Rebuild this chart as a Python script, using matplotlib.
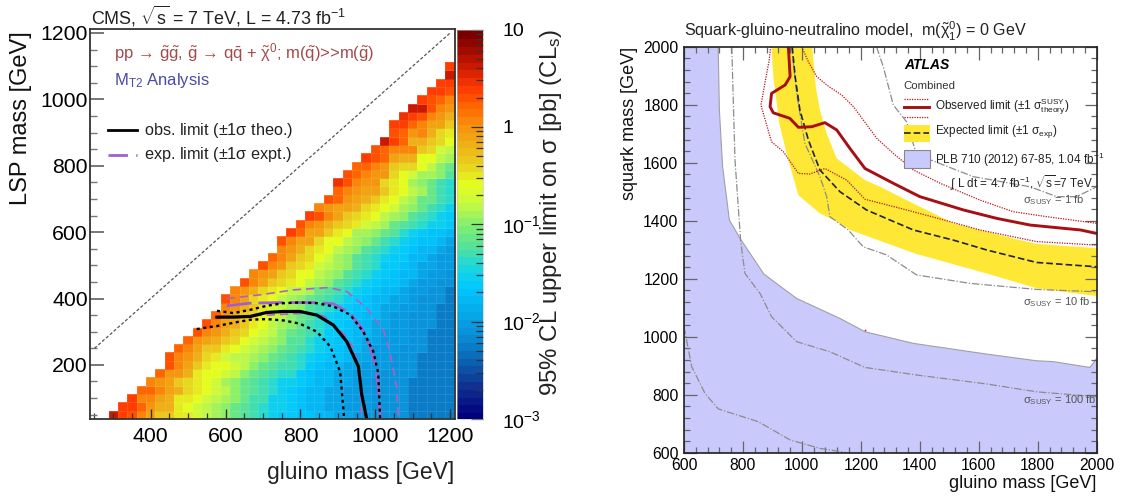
import numpy as np
import matplotlib
matplotlib.use("Agg")
import matplotlib.pyplot as plt
from matplotlib.colors import LinearSegmentedColormap, LogNorm
from matplotlib.patches import Rectangle
from matplotlib.ticker import MultipleLocator, FixedLocator, NullFormatter

plt.rcParams['font.family'] = ['Liberation Sans', 'DejaVu Sans']
plt.rcParams['mathtext.fontset'] = 'custom'
plt.rcParams['mathtext.rm'] = 'Liberation Sans'
plt.rcParams['mathtext.it'] = 'Liberation Sans:italic'
plt.rcParams['mathtext.bf'] = 'Liberation Sans:bold'

# ---------- left panel data: log10(sigma)*10, bottom row first, diagonal-side cell first ----------
gluino_first_bin = 300
lsp_first_bin = 50
bin_step = 25
log_limit_rows = [
 [6,4,3,1,-1,-3,-3,-5,-5,-7,-8,-9,-10,-11,-12,-13,-14,-15,-16,-16,-17,-17,-18,-18,-19,-19,-20,-20,-20,-21,-21,-21,-22,-22,-22,-22,-22],
 [4,4,2,0,-2,-2,-5,-6,-7,-8,-9,-10,-11,-12,-13,-14,-15,-15,-16,-17,-18,-18,-19,-19,-20,-20,-20,-21,-21,-21,-21,-22,-22,-22,-22,-22],
 [4,1,1,-1,-2,-5,-5,-6,-7,-8,-9,-10,-11,-13,-13,-15,-15,-16,-17,-18,-18,-19,-19,-20,-20,-20,-21,-21,-21,-21,-22,-22,-22,-22,-22],
 [2,2,1,-1,-2,-4,-5,-6,-7,-8,-10,-11,-12,-13,-14,-15,-16,-17,-18,-18,-19,-19,-20,-20,-20,-21,-21,-21,-21,-22,-22,-22,-22,-22],
 [1,0,-1,-3,-4,-5,-6,-7,-9,-10,-11,-12,-13,-14,-15,-15,-16,-17,-18,-18,-19,-19,-20,-20,-21,-21,-21,-21,-22,-22,-22,-22,-22],
 [2,0,0,-2,-5,-6,-6,-7,-8,-10,-11,-12,-13,-14,-14,-16,-17,-18,-18,-19,-19,-20,-20,-20,-21,-21,-21,-21,-22,-22,-22,-22],
 [3,1,-1,-3,-5,-6,-6,-7,-8,-10,-11,-12,-13,-13,-14,-16,-17,-18,-18,-19,-19,-20,-20,-20,-21,-21,-21,-22,-22,-22,-22],
 [3,1,0,-2,-4,-5,-7,-8,-8,-9,-10,-11,-12,-13,-14,-15,-16,-17,-17,-18,-19,-19,-20,-20,-21,-21,-21,-22,-22,-22,-22],
 [2,1,-1,-3,-3,-5,-6,-7,-8,-9,-10,-11,-12,-13,-14,-15,-16,-17,-18,-18,-19,-20,-20,-20,-21,-21,-21,-22,-22,-22],
 [2,0,-1,-2,-3,-4,-6,-7,-8,-9,-10,-12,-12,-14,-15,-16,-17,-17,-18,-19,-19,-20,-20,-20,-21,-21,-22,-22,-22],
 [3,1,0,-2,-3,-4,-6,-7,-8,-10,-11,-12,-13,-14,-16,-16,-17,-18,-18,-19,-20,-20,-20,-21,-21,-22,-22,-22],
 [3,1,-1,-2,-3,-5,-6,-8,-9,-10,-11,-13,-14,-15,-16,-17,-18,-18,-19,-19,-20,-20,-21,-21,-21,-22,-22],
 [2,0,-2,-3,-4,-6,-7,-8,-10,-11,-12,-14,-15,-16,-16,-17,-18,-18,-19,-20,-20,-21,-21,-21,-22,-22],
 [1,0,-2,-3,-5,-7,-8,-9,-10,-12,-13,-14,-15,-16,-17,-17,-18,-19,-19,-20,-20,-21,-21,-22,-22],
 [3,1,-1,-4,-5,-6,-8,-9,-10,-11,-12,-13,-14,-15,-16,-17,-18,-18,-19,-19,-20,-21,-21,-21,-22],
 [1,0,-2,-4,-5,-6,-8,-8,-9,-11,-12,-13,-14,-15,-16,-17,-18,-18,-19,-20,-20,-21,-21,-22],
 [3,1,-1,-3,-4,-5,-6,-8,-9,-10,-12,-13,-14,-15,-16,-17,-17,-18,-19,-20,-20,-21,-21],
 [1,0,-1,-3,-4,-6,-6,-8,-9,-10,-12,-13,-14,-15,-16,-17,-18,-18,-19,-20,-20,-21],
 [3,1,0,-3,-4,-5,-7,-8,-9,-10,-12,-13,-14,-16,-16,-17,-18,-19,-19,-20,-20],
 [2,1,-1,-3,-4,-6,-7,-9,-10,-12,-13,-14,-15,-16,-16,-18,-18,-19,-20,-20],
 [1,0,-2,-4,-5,-6,-8,-9,-10,-12,-13,-14,-15,-16,-17,-18,-18,-19,-20],
 [3,1,-1,-1,-4,-6,-6,-8,-9,-10,-11,-13,-14,-15,-16,-17,-17,-18,-19],
 [4,2,-1,-1,-3,-5,-6,-9,-9,-10,-11,-12,-14,-15,-16,-17,-17,-18],
 [3,1,0,-2,-3,-4,-5,-7,-8,-9,-11,-12,-13,-14,-15,-15,-16],
 [4,3,1,-1,-3,-4,-5,-6,-8,-9,-10,-12,-13,-14,-15,-16],
 [1,0,-1,-1,-2,-4,-5,-6,-7,-9,-10,-11,-13,-14,-15],
 [3,2,0,-1,-2,-3,-5,-6,-8,-9,-11,-11,-13,-14],
 [2,1,0,-1,-1,-3,-5,-6,-8,-9,-11,-13,-14],
 [5,3,1,0,0,-4,-5,-6,-9,-10,-11,-13,-14],
 [3,2,1,0,0,-4,-6,-7,-9,-9,-10,-12],
 [2,2,1,0,-3,-4,-4,-6,-8,-10,-11],
 [4,3,2,-1,-2,-2,-6,-6,-8,-9],
 [3,2,1,1,1,-3,-4,-7,-8],
 [6,4,2,-2,-2,-3,-4,-6],
 [3,2,0,1,-2,-4,-5],
 [4,4,2,1,-1,-1,-3],
 [5,4,3,1,0,-2],
 [6,6,3,1,0],
 [4,3,2,1],
 [4,4,3],
 [4,4],
 [6],
 [4],
]

obs_x = [577,621,666,710,755,799,844,888,924,955,964,977]
obs_y = [344,344,346,358,361,361,350,320,270,195,110,38]
obs_up_x = [577,621,666,710,755,799,844,888,933,968,995,1008,1013]
obs_up_y = [363,356,366,378,386,388,386,376,351,300,240,175,38]
obs_dn_x = [523,577,621,666,710,755,799,844,880,906,917]
obs_dn_y = [308,317,327,336,338,334,324,300,255,180,38]
exp_x = [603,666,755,844,888,933,964,986,1000,1009,1013]
exp_y = [378,386,388,388,384,356,310,255,200,125,38]
exp_up_x = [603,692,781,875,924,977,1022,1040,1057,1062]
exp_up_y = [400,411,426,433,421,371,305,235,135,38]
exp_dn_x = [603,710,799,862,915,942,955,960,964]
exp_dn_y = [345,350,355,348,295,250,190,120,38]
diagonal_range = [250, 1200]

# ---------- right panel data ----------
plb_x = [600,600,716,720,731,754,792,871,982,1129,1214,1378,1627,1796,1853,1977,1994,2000,2000]
plb_y = [600,2000,2000,1782,1586,1402,1336,1216,1132,1063,1017,977,940,917,914,894,917,925,600]
band_up_x = [1035,1047,1061,1084,1118,1214,1265,1355,1514,1740,1796,2000]
band_up_y = [2000,1862,1782,1701,1615,1540,1517,1471,1391,1333,1320,1305]
band_dn_x = [897,903,923,948,988,1061,1118,1163,1389,1627,1796,2000]
band_dn_y = [2000,1897,1736,1632,1488,1425,1397,1368,1285,1218,1167,1140]
atlas_exp_x = [967,977,993,1022,1061,1129,1219,1378,1514,1627,1796,2000]
atlas_exp_y = [2000,1897,1782,1678,1575,1500,1437,1368,1333,1299,1256,1241]
atlas_obs_x = [954,960,943,897,892,903,959,988,1033,1078,1118,1163,1214,1310,1400,1548,1661,1774,1945,2000]
atlas_obs_y = [2000,1897,1868,1839,1793,1772,1753,1722,1724,1738,1713,1649,1580,1529,1483,1437,1408,1385,1368,1356]
atlas_obs_up_x = [999,1022,1050,1084,1135,1175,1254,1310,1378,1469,1604,1717,1830,2000]
atlas_obs_up_y = [2000,1948,1897,1868,1833,1793,1684,1632,1575,1529,1471,1431,1414,1391]
atlas_obs_dn_x = [894,889,861,897,937,988,1027,1078,1152,1214,1355,1491,1604,1796,2000]
atlas_obs_dn_y = [2000,1954,1799,1672,1638,1563,1561,1580,1540,1474,1437,1400,1368,1328,1316]
sig1_x = [1253,1276,1310,1355,1384,1423,1581,1774,1864,1932,2000]
sig1_y = [2000,1931,1799,1741,1644,1615,1552,1517,1483,1483,1517]
sig10_x = [965,982,1010,1061,1084,1095,1157,1208,1287,1389,1570,1796,2000]
sig10_y = [2000,1839,1667,1552,1483,1414,1368,1310,1282,1213,1184,1163,1155]
sig100_x = [762,773,792,796,807,858,897,982,1095,1214,1389,1627,1796,2000]
sig100_y = [2000,1609,1333,1299,1218,1149,1069,983,948,894,868,837,810,793]
sig1000_x = [600,626,671,716,852,960,1061,1152]
sig1000_y = [1034,897,805,751,707,644,615,600]
stray_point_x = [1214]
stray_point_y = [1023]

W, H = 1121, 496
fig = plt.figure(figsize=(W/100, H/100), dpi=100)

def axes_px(l, t, r, b, **kw):
    return fig.add_axes([l/W, 1-b/H, (r-l)/W, (b-t)/H], **kw)

# ---------- colormap ----------
stops = [(0.00,'#00007f'),(0.08,'#10308f'),(0.16,'#0a6cb8'),(0.21,'#0a8cd6'),(0.34,'#00c8ff'),
         (0.40,'#1fd8d8'),(0.44,'#50e0a0'),(0.50,'#80ee70'),(0.56,'#c8f840'),(0.61,'#e4ff1e'),
         (0.66,'#e8d01e'),(0.75,'#f49a10'),(0.81,'#ff6a00'),(0.86,'#ff3a00'),(0.92,'#c81800'),(1.00,'#7a0000')]
cmap = LinearSegmentedColormap.from_list('limit', stops, N=50)
norm = LogNorm(1e-3, 10)

# ---------- left panel ----------
ax = axes_px(90, 29, 455, 419)
n_rows = len(log_limit_rows)
n_cols = len(log_limit_rows[0])
grid = np.full((n_rows, n_cols), np.nan)
for i, row in enumerate(log_limit_rows):
    grid[i, n_cols-len(row):] = row
xe = gluino_first_bin - bin_step/2 + bin_step*np.arange(n_cols+1)
ye = lsp_first_bin - bin_step/2 + bin_step*np.arange(n_rows+1)
mesh = ax.pcolormesh(xe, ye, np.ma.masked_invalid(10**(grid/10)), cmap=cmap, norm=norm,
                     edgecolor=(1, 1, 1, 0.1), linewidth=0.5)
ax.plot(diagonal_range, diagonal_range, color='#555555', lw=0.9, ls=(0, (2.5, 1.6)))
PUR = '#a060d0'
ax.plot(exp_up_x, exp_up_y, color='#b060c8', lw=1.2, ls=(0, (5, 3)))
ax.plot(exp_dn_x, exp_dn_y, color='#b060c8', lw=1.2, ls=(0, (5, 3)))
ax.plot(exp_x, exp_y, color=PUR, lw=2, ls=(0, (9, 2.5)))
ax.plot(obs_up_x, obs_up_y, color='k', lw=1.7, ls=(0, (1.3, 1.5)))
ax.plot(obs_dn_x, obs_dn_y, color='k', lw=1.7, ls=(0, (1.3, 1.5)))
ax.plot(obs_x, obs_y, color='k', lw=2.3)
ax.set_xlim(238, 1213)
ax.set_ylim(37, 1212)
ax.xaxis.set_major_locator(MultipleLocator(200))
ax.xaxis.set_minor_locator(MultipleLocator(50))
ax.yaxis.set_major_locator(MultipleLocator(200))
ax.yaxis.set_minor_locator(MultipleLocator(50))
ax.tick_params(axis='x', which='major', direction='in', length=7, width=1.0, color='#333333', labelsize=15.3, pad=6)
ax.tick_params(axis='x', which='minor', direction='in', length=4, width=0.9, color='#333333')
ax.tick_params(axis='y', which='major', direction='in', length=10, width=1.4, color='#777777', labelsize=15.3, pad=1.5)
ax.tick_params(axis='y', which='minor', direction='in', length=5, width=1.0, color='#777777')
for s in ax.spines.values():
    s.set_color('#333333'); s.set_linewidth(1.3)

cax = axes_px(457, 29.5, 483, 419)
cb = fig.colorbar(mesh, cax=cax)
cb.outline.set_edgecolor('#bbbbbb'); cb.outline.set_linewidth(0.4)
cb.solids.set_edgecolor('face')
cax.yaxis.set_major_locator(FixedLocator([1e-3, 1e-2, 1e-1, 1, 10]))
cax.set_yticklabels(['10$^{-3}$', '10$^{-2}$', '10$^{-1}$', '1', '10'])
cax.tick_params(axis='y', which='major', direction='in', length=9, width=0.9, color='#333333', labelsize=14, pad=14)
cax.tick_params(axis='y', which='minor', direction='in', length=5, width=0.9, color='#333333')

# ---------- right panel ----------
ax2 = axes_px(684, 46.7, 1096.7, 452.7)
ax2.fill(plb_x, plb_y, facecolor='#c9c9fb', edgecolor='#a0a0a8', lw=0.8, zorder=1)
ax2.fill(band_up_x + band_dn_x[::-1], band_up_y + band_dn_y[::-1], facecolor='#ffe835', edgecolor='none', zorder=2)
for xs, ys in [(sig1_x, sig1_y), (sig10_x, sig10_y), (sig100_x, sig100_y), (sig1000_x, sig1000_y)]:
    ax2.plot(xs, ys, color='#8c8c8c', lw=0.9, ls=(0, (6, 1.5, 1, 1.5)), zorder=3)
ax2.plot(atlas_exp_x, atlas_exp_y, color='#222233', lw=1.2, ls=(0, (4, 1.8)), zorder=4)
ax2.plot(atlas_obs_up_x, atlas_obs_up_y, color='#b8141c', lw=0.9, ls=(0, (1, 1)), zorder=4)
ax2.plot(atlas_obs_dn_x, atlas_obs_dn_y, color='#b8141c', lw=0.9, ls=(0, (1, 1)), zorder=4)
ax2.plot(atlas_obs_x, atlas_obs_y, color='#a80f14', lw=2.1, zorder=5)
ax2.plot(stray_point_x, stray_point_y, ls='none', marker='o', ms=1.3, color='#c03030', mew=0, zorder=5)
ax2.set_xlim(600, 2000)
ax2.set_ylim(600, 2000)
ax2.xaxis.set_major_locator(MultipleLocator(200))
ax2.xaxis.set_minor_locator(MultipleLocator(40))
ax2.yaxis.set_major_locator(MultipleLocator(200))
ax2.yaxis.set_minor_locator(MultipleLocator(40))
ax2.tick_params(which='major', direction='in', length=9, width=0.9, color='#666666', top=True, right=True, labelsize=11.3, pad=4)
ax2.tick_params(which='minor', direction='in', length=4.5, width=0.9, color='#666666', top=True, right=True)
ax2.set_axisbelow(False)
for s in ax2.spines.values():
    s.set_color('#222222'); s.set_linewidth(1.2); s.set_zorder(10)

# ---------- overlay: all labels, in image pixels ----------
ov = fig.add_axes([0, 0, 1, 1], facecolor='none')
ov.set_xlim(0, W); ov.set_ylim(H, 0); ov.axis('off')

def T(x, y, s, size, color='#111111', ha='left', va='center', **kw):
    return ov.text(x, y, s, fontsize=size, color=color, ha=ha, va=va, **kw)

T(91, 16, r'CMS, $\sqrt{\mathrm{s}}$ = 7 TeV, L = 4.73 fb$^{-1}$', 12.9, '#222222')
T(21, 118, 'LSP mass [GeV]', 17, rotation=90, ha='center')
T(454, 472, 'gluino mass [GeV]', 16.5, ha='right', color='#222222')
T(551, 212, r'95% CL upper limit on $\mathrm{\sigma}$ [pb] (CL$_{\mathrm{s}}$)', 17.3, rotation=90, ha='center', color='#222222')
T(114, 53, r'pp$\,\rightarrow\,$$\tilde{\mathrm{g}}\tilde{\mathrm{g}}$, $\tilde{\mathrm{g}}$$\,\rightarrow\,$q$\bar{\mathrm{q}}$ + $\tilde{\mathrm{\chi}}^{0}$; m($\tilde{\mathrm{q}}$)>>m($\tilde{\mathrm{g}}$)', 12, '#a54a4a')
T(114, 81, r'M$_{\mathrm{T2}}$ Analysis', 12, '#4a4aa8')
ov.plot([108, 137], [130, 130], color='k', lw=2)
T(144, 130, r'obs. limit ($\pm$1$\mathrm{\sigma}$ theo.)', 11.7, '#222222')
ov.plot([108, 137], [155, 155], color=PUR, lw=2, ls=(0, (7, 3)))
T(144, 155, r'exp. limit ($\pm$1$\mathrm{\sigma}$ expt.)', 11.7, '#222222')

T(684, 31, r'Squark-gluino-neutralino model,  m($\tilde{\mathrm{\chi}}_{1}^{0}$) = 0 GeV', 11.6, '#222222')
T(630, 123, 'squark mass [GeV]', 13, rotation=90, ha='center')
T(1096, 483, 'gluino mass [GeV]', 13, ha='right')
T(904, 65, 'ATLAS', 10, 'k', fontweight='bold', fontstyle='italic')
T(903, 86, 'Combined', 8.2, '#333333')
ov.plot([904, 929], [99, 99], color='#b8141c', lw=0.9, ls=(0, (1, 1)))
ov.plot([904, 929], [107, 107], color='#a80f14', lw=2.1)
ov.plot([904, 929], [117, 117], color='#b8141c', lw=0.9, ls=(0, (1, 1)))
T(935, 107, r'Observed limit ($\pm$1 $\mathrm{\sigma}_{\mathrm{theory}}^{\mathrm{SUSY}}$)', 8.5, '#222222')
ov.add_patch(Rectangle((904, 125), 26, 17, facecolor='#ffe835', edgecolor='none'))
ov.plot([904, 929], [133, 133], color='#222233', lw=1.2, ls=(0, (4, 1.8)))
T(935, 132, r'Expected limit ($\pm$1 $\mathrm{\sigma}_{\mathrm{exp}}$)', 8.5, '#222222')
ov.add_patch(Rectangle((904, 150), 26, 18, facecolor='#c9c9fb', edgecolor='#888888', lw=0.8))
T(935, 160, r'PLB 710 (2012) 67-85, 1.04 fb$^{-1}$', 8.5, '#222222')
T(950, 183, r'$\int$ L dt = 4.7 fb$^{-1}$, $\sqrt{\mathrm{s}}$=7 TeV', 8.5, '#222222')
T(1023, 200, r'$\mathrm{\sigma}_{\mathrm{SUSY}}$ = 1 fb', 8, '#555555')
T(1023, 302, r'$\mathrm{\sigma}_{\mathrm{SUSY}}$ = 10 fb', 8, '#555555')
T(1023, 400, r'$\mathrm{\sigma}_{\mathrm{SUSY}}$ = 100 fb', 8, '#555555')

fig.savefig('out.png', dpi=100)
